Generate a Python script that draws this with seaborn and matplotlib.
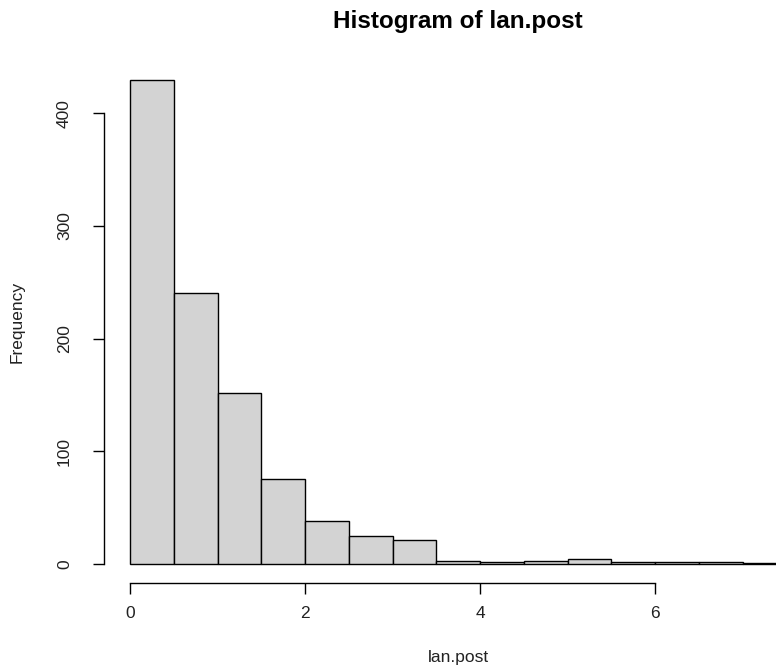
import numpy as np
import matplotlib
matplotlib.use("Agg")
import matplotlib.pyplot as plt
import seaborn as sns

# bin edges (width 0.5) and counts per bin
bin_edges = [0.0, 0.5, 1.0, 1.5, 2.0, 2.5, 3.0, 3.5, 4.0, 4.5, 5.0, 5.5, 6.0, 6.5, 7.0, 7.5]
counts = [429, 240, 152, 75, 38, 25, 21, 3, 2, 3, 4, 2, 2, 2, 1]
x_ticks = [0, 2, 4, 6]
y_ticks = [0, 100, 200, 300, 400]

bin_mids = [(a + b) / 2 for a, b in zip(bin_edges[:-1], bin_edges[1:])]

sns.set_style("white")
plt.rcParams['font.family'] = ['Liberation Sans', 'DejaVu Sans']

fig = plt.figure(figsize=(7.76, 6.68), dpi=100)
# plot region runs past the right edge of the picture (cropped)
ax = fig.add_axes([104 / 776, 1 - 583.3 / 668, 708.5 / 776, 522.3 / 668])

sns.histplot(x=bin_mids, weights=counts, bins=bin_edges, stat="count",
             color="#D3D3D3", edgecolor="black", linewidth=1.0, alpha=1.0, ax=ax)

ax.set_xlim(-0.3, 7.8)
ax.set_ylim(-17.16, 446.2)
ax.set_xticks(x_ticks)
ax.set_yticks(y_ticks)
ax.set_yticklabels([str(v) for v in y_ticks], rotation=90, va="center")

for s in ["top", "right"]:
    ax.spines[s].set_visible(False)
ax.spines["left"].set_bounds(0, 400)
ax.spines["bottom"].set_bounds(0, 6)
for s in ["left", "bottom"]:
    ax.spines[s].set_color("black")
    ax.spines[s].set_linewidth(1.0)

ax.tick_params(axis="both", direction="out", length=8, width=1.0,
               color="black", labelsize=12.5, labelcolor="#222222",
               bottom=True, left=True)
ax.tick_params(axis="y", pad=15)
ax.tick_params(axis="x", pad=8.5)

ax.set_title("Histogram of lan.post", fontsize=17.5, fontweight="bold",
             color="black", pad=24)
ax.set_xlabel("lan.post", fontsize=12.5, color="#222222")
ax.set_ylabel("Frequency", fontsize=12.5, color="#222222")
ax.xaxis.set_label_coords(0.5, -0.128)
ax.yaxis.set_label_coords(-0.1115, 0.5)

fig.savefig("out.png", dpi=100)
